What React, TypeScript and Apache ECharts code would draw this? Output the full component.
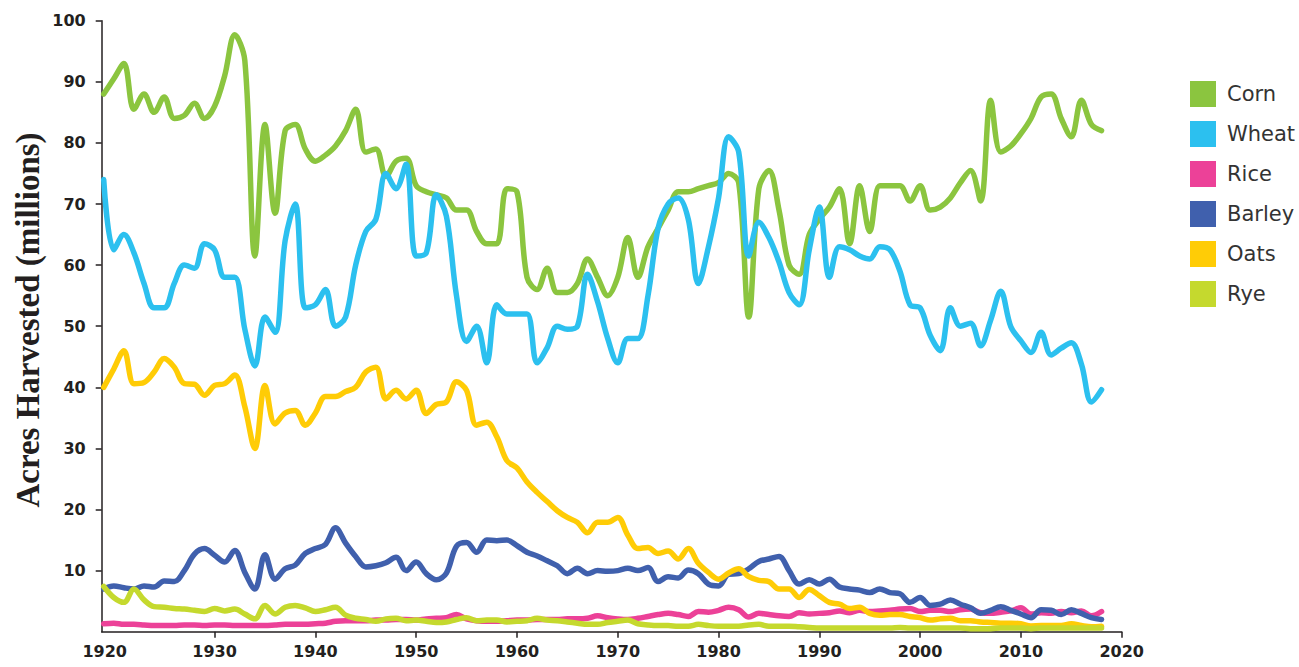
import React, { useEffect, useRef } from "react";
import * as echarts from "echarts";

const startYear = 1919;

const corn = [
  88, 90.5, 93, 85.5, 88, 85, 87.5, 84, 84.5, 86.5,
  84, 86, 91, 97.7, 93.5, 61.5, 83, 68.5, 82, 83,
  79, 77, 78, 79.5, 82, 85.5, 78.5, 79, 74.5, 77,
  77.5, 73, 72, 71.5, 71, 69, 69, 65.5, 63.5, 63.5,
  72.5, 72, 58, 56, 59.5, 55.5, 55.5, 57, 61, 58,
  55, 58, 64.5, 58, 63, 66, 69, 72, 72, 72.5,
  73, 73.5, 75, 73.5, 51.5, 72.5, 75.5, 69, 60, 58.5,
  65, 67.5, 69.5, 72.5, 63.5, 73, 65.5, 73, 73, 73,
  70.5, 73, 69, 69.5, 71, 73.5, 75.5, 70.5, 87, 78.5,
  79.5, 81.5, 84, 87.5, 88, 84, 81, 87, 83, 82,
];

const wheat = [
  74, 62.5, 65, 62, 57, 53, 53, 57, 60, 59.5,
  63.5, 62.5, 58, 58, 49.5, 43.5, 51.5, 49, 64, 70,
  53, 53.5, 56, 50, 51.5, 60, 65.5, 67.5, 75, 72.5,
  76.5, 61.5, 62, 71.5, 68, 55, 47.5, 50, 44, 53.5,
  52, 52, 52, 44, 46.5, 50, 49.5, 50, 58.5, 54,
  48, 44, 48, 48, 55, 66, 70, 71, 67.5, 57,
  63, 71, 81, 78.5, 61.5, 67, 64.5, 60.5, 55.5, 53.5,
  62.5, 69.5, 58, 63, 62.5, 61.5, 61, 63, 62.5, 59,
  53.5, 53, 48.5, 46, 53, 50, 50.5, 46.8, 51, 55.7,
  49.9, 47.6, 45.7, 49, 45.3, 46.4, 47.3, 43.8, 37.6, 39.6,
];

const rice = [
  1.3, 1.4, 1.2, 1.2, 1.1, 1.0, 1.0, 1.0, 1.1, 1.1,
  1.0, 1.1, 1.1, 1.0, 1.0, 1.0, 1.0, 1.1, 1.2, 1.2,
  1.2, 1.3, 1.4, 1.7, 1.8, 1.8, 1.8, 1.9, 1.9, 2.0,
  2.0, 1.9, 2.1, 2.2, 2.3, 2.8, 2.1, 1.8, 1.7, 1.7,
  1.8, 1.9, 1.9, 2.0, 2.0, 2.0, 2.1, 2.1, 2.2, 2.6,
  2.3, 2.1, 2.0, 2.2, 2.5, 2.8, 3.0, 2.8, 2.5, 3.3,
  3.2, 3.5, 4.0, 3.6, 2.4, 3.0, 2.8, 2.6, 2.5, 3.1,
  2.9, 3.0, 3.1, 3.4, 3.1, 3.5, 3.3, 3.4, 3.5, 3.7,
  3.8, 3.3, 3.5, 3.5, 3.3, 3.6, 3.7, 3.1, 3.0, 3.2,
  3.4, 3.9, 2.9, 3.1, 3.0, 3.3, 3.1, 3.4, 2.6, 3.3,
];

const barley = [
  7.0, 7.5, 7.2, 7.0, 7.5, 7.3, 8.3, 8.2, 10.0, 12.7,
  13.6, 12.5, 11.4, 13.3, 9.7, 7.0, 12.6, 8.6, 10.3, 10.9,
  12.8, 13.6, 14.3, 17.0, 14.5, 12.3, 10.6, 10.8, 11.3, 12.2,
  10.0, 11.4, 9.5, 8.5, 9.6, 14.0, 14.6, 13.0, 15.0, 14.9,
  15.0, 14.1, 13.0, 12.4, 11.6, 10.8, 9.5, 10.4, 9.5, 10.0,
  9.9, 10.0, 10.4, 10.0, 10.5, 8.2, 9.0, 8.8, 10.1, 9.5,
  7.8, 7.5, 9.4, 9.5, 10.3, 11.5, 11.9, 12.3, 10.0, 7.8,
  8.5, 7.8, 8.6, 7.3, 7.0, 6.8, 6.4, 7.0, 6.4, 6.2,
  4.8, 5.6, 4.3, 4.5, 5.2, 4.5, 3.9, 3.0, 3.5, 4.1,
  3.5, 2.9, 2.3, 3.6, 3.5, 2.8, 3.6, 3.0, 2.3, 2.0,
];

const oats = [
  40.0, 43, 46, 40.6, 40.8, 42.5, 44.7, 43.3, 40.6, 40.5,
  38.7, 40.3, 40.6, 42, 36.8, 30.0, 40.3, 34, 35.8, 36.2,
  33.8, 35.8, 38.5, 38.5, 39.3, 40, 42.5, 43.3, 38.1, 39.5,
  38.1, 39.5, 35.7, 37.2, 37.6, 40.9, 39.5, 33.8, 34.3, 31.9,
  28.0, 26.8, 24.5, 22.8, 21.3, 19.8, 18.7, 17.9, 16.2, 17.9,
  17.9, 18.7, 15.8, 13.6, 13.8, 12.8, 13.2, 11.9, 13.6, 11.2,
  9.7, 8.6, 9.6, 10.3, 9.0, 8.4, 8.2, 7.0, 7.0, 5.6,
  6.9, 5.9, 4.8, 4.5, 3.8, 4.0, 3.0, 2.7, 2.8, 2.8,
  2.5, 2.3, 1.9, 2.1, 2.2, 1.8, 1.8, 1.6, 1.5, 1.4,
  1.4, 1.3, 0.95, 1.0, 1.0, 1.0, 1.3, 1.0, 0.8, 0.9,
];

const rye = [
  7.4, 5.6, 4.8, 7.0, 5.2, 4.1, 4.0, 3.8, 3.7, 3.5,
  3.3, 3.8, 3.4, 3.7, 2.9, 2.1, 4.3, 2.9, 4.0, 4.3,
  3.9, 3.3, 3.6, 4.0, 2.7, 2.2, 2.0, 1.7, 2.1, 2.2,
  1.8, 1.9, 1.7, 1.5, 1.6, 2.0, 2.3, 1.8, 1.9, 1.9,
  1.6, 1.7, 1.8, 2.2, 1.9, 1.8, 1.6, 1.4, 1.2, 1.2,
  1.5, 1.7, 1.9, 1.3, 1.1, 1.0, 1.0, 0.9, 0.9, 1.2,
  1.0, 0.9, 0.9, 0.9, 1.1, 1.2, 0.9, 0.9, 0.9, 0.8,
  0.7, 0.6, 0.6, 0.6, 0.6, 0.6, 0.6, 0.6, 0.6, 0.7,
  0.6, 0.6, 0.6, 0.6, 0.6, 0.6, 0.5, 0.5, 0.5, 0.6,
  0.6, 0.6, 0.5, 0.6, 0.6, 0.6, 0.6, 0.6, 0.6, 0.6,
];

const seriesNames = ["Corn", "Wheat", "Rice", "Barley", "Oats", "Rye"];
const seriesValues = [corn, wheat, rice, barley, oats, rye];
const seriesColors = ["#8BC53F", "#2CC0EF", "#EC4198", "#4060AD", "#FFCC06", "#C5D92E"];

const xTickValues = [1930, 1940, 1950, 1960, 1970, 1980, 1990, 2000, 2010, 2020];
const xLabelValues = [1919.1, 1930, 1940, 1950, 1960, 1970, 1980, 1990, 2000, 2010, 2020];
const xLabelTexts = ["1920", "1930", "1940", "1950", "1960", "1970", "1980", "1990", "2000", "2010", "2020"];
const yTickValues = [10, 20, 30, 40, 50, 60, 70, 80, 90, 100];

const axisColor = "#231F20";

export default function App() {
  const ref = useRef<HTMLDivElement>(null);

  useEffect(() => {
    if (!ref.current) return;
    const chart = echarts.init(ref.current, undefined, { renderer: "svg" });

    const series = seriesNames.map((name, i) => ({
      name,
      type: "line",
      data: seriesValues[i].map((v, j) => [startYear + j, v]),
      showSymbol: false,
      symbol: "none",
      smooth: 0.35,
      color: seriesColors[i],
      itemStyle: { color: seriesColors[i] },
      lineStyle: { width: 5.5, color: seriesColors[i], cap: "round", join: "round" },
    }));

    chart.setOption({
      animation: false,
      backgroundColor: "#ffffff",
      grid: { left: 101.7, right: 177.3, top: 20.7, bottom: 35.3, containLabel: false },
      xAxis: {
        type: "value",
        min: 1918.8,
        max: 2020,
        axisLine: { show: true, lineStyle: { color: axisColor, width: 1.5 } },
        axisTick: { show: true, length: 6, lineStyle: { color: axisColor, width: 1.5 }, customValues: xTickValues },
        axisLabel: {
          customValues: xLabelValues,
          formatter: (v: number) => {
            const idx = xLabelValues.findIndex((x) => Math.abs(x - v) < 0.01);
            return idx >= 0 ? xLabelTexts[idx] : "";
          },
          margin: 12,
          fontFamily: "DejaVu Sans",
          fontWeight: "bold",
          fontSize: 16,
          color: axisColor,
        },
        splitLine: { show: false },
      },
      yAxis: {
        type: "value",
        min: 0,
        max: 100,
        interval: 10,
        axisLine: { show: true, lineStyle: { color: axisColor, width: 1.5 } },
        axisTick: { show: true, length: 6, lineStyle: { color: axisColor, width: 1.5 }, customValues: yTickValues },
        axisLabel: {
          customValues: yTickValues,
          margin: 16,
          fontFamily: "DejaVu Sans",
          fontWeight: "bold",
          fontSize: 16,
          color: axisColor,
        },
        splitLine: { show: false },
      },
      legend: {
        orient: "vertical",
        left: 1190,
        top: 81,
        padding: 0,
        itemWidth: 26,
        itemHeight: 26,
        itemGap: 14,
        icon: "rect",
        data: seriesNames,
        textStyle: { fontFamily: "DejaVu Sans", fontSize: 21, color: "#333333", padding: [0, 0, 0, 6] },
      },
      graphic: [
        {
          type: "text",
          x: 27.5,
          y: 320,
          rotation: Math.PI / 2,
          style: {
            text: "Acres Harvested (millions)",
            font: 'bold 33px "Liberation Serif"',
            fill: axisColor,
            align: "center",
            verticalAlign: "middle",
            textAlign: "center",
            textVerticalAlign: "middle",
          },
        },
      ],
      series,
    });

    return () => chart.dispose();
  }, []);

  return (
    <div
      ref={ref}
      style={{ position: "fixed", left: 0, top: 0, width: 1299, height: 667, background: "#fff" }}
    />
  );
}
